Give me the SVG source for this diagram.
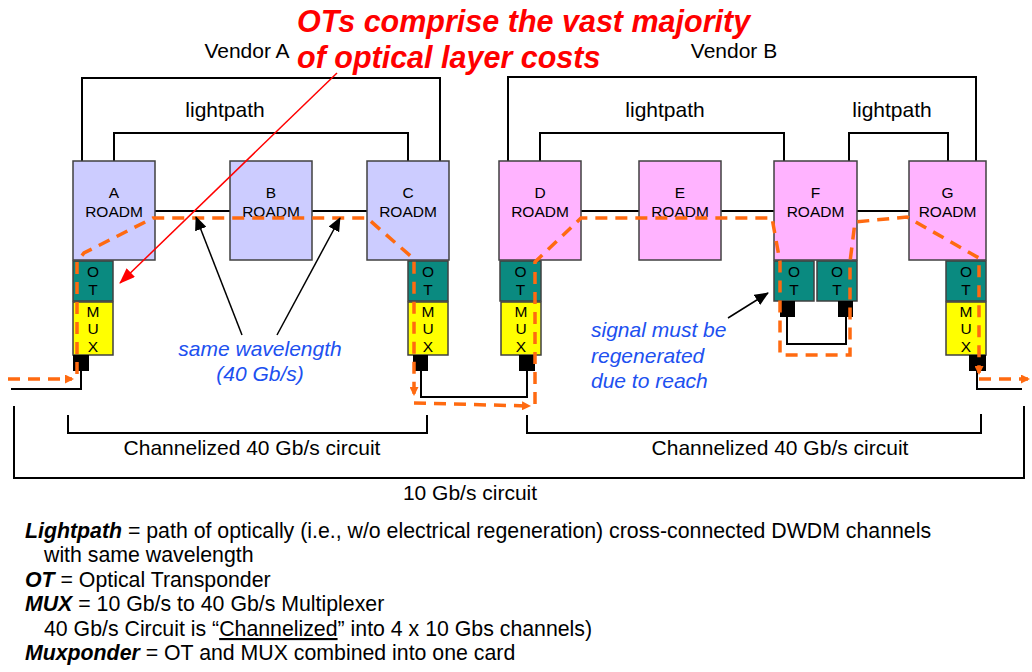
<svg xmlns="http://www.w3.org/2000/svg" width="1032" height="672" viewBox="0 0 1032 672">
<style>
text{font-family:"Liberation Sans",Arial,sans-serif;fill:#000}
.lbl{font-size:21px}
.nt{font-size:15.5px;text-anchor:middle}
.roadmA{fill:#ccccff;stroke:#404040;stroke-width:1.5}
.roadmB{fill:#ffb3ff;stroke:#404040;stroke-width:1.5}
.ot{fill:#0a8a80;stroke:#404040;stroke-width:1.5}
.mux{fill:#ffff00;stroke:#404040;stroke-width:1.5}
.port{fill:#000}
.wire{fill:none;stroke:#000;stroke-width:2}
.lp{fill:none;stroke:#000;stroke-width:2}
.opt{fill:none;stroke:#ff6a10;stroke-width:3.5;stroke-dasharray:12 8}
.blue{font-size:21px;font-style:italic;fill:#2050f0}
.red{font-size:30.5px;font-style:italic;font-weight:bold;fill:#ff0000}
.def{font-size:21.3px}
.b{font-weight:bold;font-style:italic}
</style>
<defs>
<marker id="oa" markerWidth="9" markerHeight="9" refX="7" refY="4.5" orient="auto" markerUnits="userSpaceOnUse"><path d="M0,0 L9,4.5 L0,9 z" fill="#ff6a10"/></marker>
<marker id="ba" markerWidth="14" markerHeight="12" refX="13" refY="6" orient="auto" markerUnits="userSpaceOnUse"><path d="M0,0 L14,6 L0,12 z" fill="#000"/></marker>
<marker id="ra" markerWidth="16" markerHeight="12" refX="15" refY="6" orient="auto" markerUnits="userSpaceOnUse"><path d="M0,0 L16,6 L0,12 z" fill="#ff0000"/></marker>
</defs>

<g id="lightpaths">
<path class="lp" d="M82 161 V78 H440 V161"/>
<path class="lp" d="M114 161 V133 H408 V161"/>
<path class="lp" d="M508 161 V77 H976 V161"/>
<path class="lp" d="M540 161 V133 H784 V161"/>
<path class="lp" d="M849 161 V133 H948 V161"/>
<text class="lbl" x="225" y="117" text-anchor="middle">lightpath</text>
<text class="lbl" x="665" y="117" text-anchor="middle">lightpath</text>
<text class="lbl" x="892" y="117" text-anchor="middle">lightpath</text>
</g>

<g id="connectors">
<path class="wire" d="M155 211 H230 M312 211 H367 M581 211 H639 M721 211 H774 M857 211 H909"/>
<path class="wire" d="M81 371 V389 H11"/>
<path class="wire" d="M421 371 V397 H527 V371"/>
<path class="wire" d="M977 371 V389 H1022"/>
<path class="wire" d="M787 317 V344 H846 V317"/>
</g>

<g id="node-A">
<rect class="roadmA" x="73" y="161" width="82" height="99"/>
<text class="nt" x="114" y="198">A</text><text class="nt" x="114" y="217">ROADM</text>
</g>
<g id="node-B">
<rect class="roadmA" x="230" y="161" width="82" height="99"/>
<text class="nt" x="271" y="198">B</text><text class="nt" x="271" y="217">ROADM</text>
</g>
<g id="node-C">
<rect class="roadmA" x="367" y="161" width="82" height="99"/>
<text class="nt" x="408" y="198">C</text><text class="nt" x="408" y="217">ROADM</text>
</g>
<g id="node-D">
<rect class="roadmB" x="499" y="161" width="82" height="99"/>
<text class="nt" x="540" y="198">D</text><text class="nt" x="540" y="217">ROADM</text>
</g>
<g id="node-E">
<rect class="roadmB" x="639" y="161" width="82" height="99"/>
<text class="nt" x="680" y="198">E</text><text class="nt" x="680" y="217">ROADM</text>
</g>
<g id="node-F">
<rect class="roadmB" x="774" y="161" width="83" height="99"/>
<text class="nt" x="815.5" y="198">F</text><text class="nt" x="815.5" y="217">ROADM</text>
</g>
<g id="node-G">
<rect class="roadmB" x="909" y="161" width="77" height="99"/>
<text class="nt" x="947.5" y="198">G</text><text class="nt" x="947.5" y="217">ROADM</text>
</g>

<g id="ot-A"><rect class="ot" x="73" y="261" width="40" height="40"/><text class="nt" x="93" y="277">O</text><text class="nt" x="93" y="295">T</text></g>
<g id="ot-C"><rect class="ot" x="408" y="261" width="40" height="40"/><text class="nt" x="428" y="277">O</text><text class="nt" x="428" y="295">T</text></g>
<g id="ot-D"><rect class="ot" x="500" y="261" width="41" height="40"/><text class="nt" x="520.5" y="277">O</text><text class="nt" x="520.5" y="295">T</text></g>
<g id="ot-F1"><rect class="ot" x="774" y="261" width="40" height="40"/><text class="nt" x="794" y="277">O</text><text class="nt" x="794" y="295">T</text></g>
<g id="ot-F2"><rect class="ot" x="817" y="261" width="40" height="40"/><text class="nt" x="837" y="277">O</text><text class="nt" x="837" y="295">T</text></g>
<g id="ot-G"><rect class="ot" x="946" y="261" width="40" height="40"/><text class="nt" x="966" y="277">O</text><text class="nt" x="966" y="295">T</text></g>

<g id="mux-A"><rect class="mux" x="73" y="302" width="40" height="53"/><text class="nt" x="93" y="317">M</text><text class="nt" x="93" y="334">U</text><text class="nt" x="93" y="352">X</text></g>
<g id="mux-C"><rect class="mux" x="408" y="302" width="40" height="53"/><text class="nt" x="428" y="317">M</text><text class="nt" x="428" y="334">U</text><text class="nt" x="428" y="352">X</text></g>
<g id="mux-D"><rect class="mux" x="501" y="302" width="40" height="53"/><text class="nt" x="521" y="317">M</text><text class="nt" x="521" y="334">U</text><text class="nt" x="521" y="352">X</text></g>
<g id="mux-G"><rect class="mux" x="946" y="302" width="40" height="53"/><text class="nt" x="966" y="317">M</text><text class="nt" x="966" y="334">U</text><text class="nt" x="966" y="352">X</text></g>

<g id="ports">
<rect class="port" x="73" y="355" width="16" height="16"/>
<rect class="port" x="413" y="355" width="15" height="16"/>
<rect class="port" x="519" y="355" width="16" height="16"/>
<rect class="port" x="969" y="355" width="17" height="16"/>
<rect class="port" x="780" y="301" width="15" height="16"/>
<rect class="port" x="838" y="301" width="15" height="16"/>
</g>

<g id="signal-path">
<path class="opt" d="M8 379 H72" marker-end="url(#oa)"/>
<path class="opt" d="M77 374 V262 L84 253 L153 218 H367 L414 259 V394" marker-end="url(#oa)"/>
<path class="opt" d="M414 403 L529 406" marker-end="url(#oa)"/>
<path class="opt" d="M535 404 V262 L581 218 H772 L780 262 V355 H850 V262 L855 222 L907 217 L979 258 V373" marker-end="url(#oa)"/>
<path class="opt" d="M979 379 H1028" marker-end="url(#oa)"/>
</g>

<g id="annotations">
<path class="wire" d="M242 335 L196 217" marker-end="url(#ba)" style="stroke-width:1.5"/>
<path class="wire" d="M277 335 L340 218" marker-end="url(#ba)" style="stroke-width:1.5"/>
<path class="wire" d="M728 318 L768 293" marker-end="url(#ba)" style="stroke-width:1.5"/>
<path d="M337 73 L120 283" stroke="#ff0000" stroke-width="1.5" fill="none" marker-end="url(#ra)"/>
</g>

<g id="brackets">
<path class="wire" d="M68 415 V433 H427 V415"/>
<path class="wire" d="M527 415 V433 H981 V414"/>
<path class="wire" d="M14 406 V478 H1024 V406"/>
<text class="lbl" x="252" y="455" text-anchor="middle">Channelized 40 Gb/s circuit</text>
<text class="lbl" x="780" y="455" text-anchor="middle">Channelized 40 Gb/s circuit</text>
<text class="lbl" x="470" y="500" text-anchor="middle">10 Gb/s circuit</text>
</g>

<g id="labels">
<text class="red" x="297" y="32">OTs comprise the vast majority</text>
<text class="red" x="297" y="68">of optical layer costs</text>
<text class="lbl" x="247" y="58" text-anchor="middle">Vendor A</text>
<text class="lbl" x="734" y="58" text-anchor="middle">Vendor B</text>
<text class="blue" x="260" y="356" text-anchor="middle">same wavelength</text>
<text class="blue" x="260" y="381" text-anchor="middle">(40 Gb/s)</text>
<text class="blue" x="591" y="337">signal must be</text>
<text class="blue" x="591" y="363">regenerated</text>
<text class="blue" x="591" y="388">due to reach</text>
</g>

<g id="legend">
<text class="def" x="25" y="538"><tspan class="b">Lightpath</tspan> = path of optically (i.e., w/o electrical regeneration) cross-connected DWDM channels</text>
<text class="def" x="44" y="562">with same wavelength</text>
<text class="def" x="25" y="587"><tspan class="b">OT</tspan> = Optical Transponder</text>
<text class="def" x="25" y="611"><tspan class="b">MUX</tspan> = 10 Gb/s to 40 Gb/s Multiplexer</text>
<text class="def" x="44" y="636">40 Gb/s Circuit is “<tspan text-decoration="underline">Channelized</tspan>” into 4 x 10 Gbs channels)</text>
<text class="def" x="25" y="660"><tspan class="b">Muxponder</tspan> = OT and MUX combined into one card</text>
</g>
</svg>
